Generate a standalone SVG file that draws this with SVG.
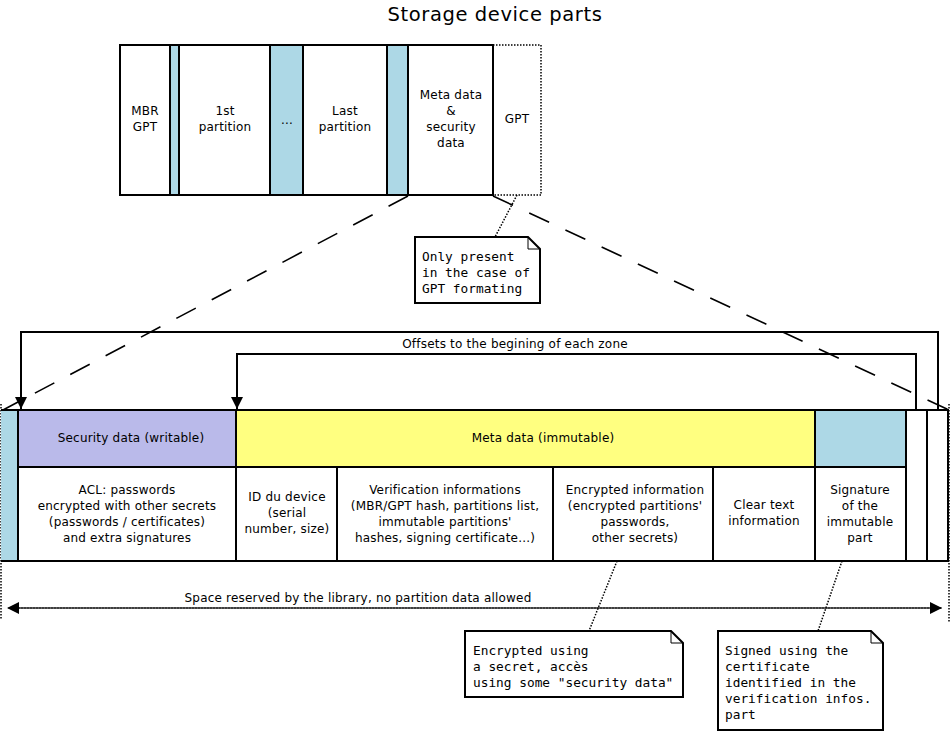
<svg xmlns="http://www.w3.org/2000/svg" width="951" height="731" viewBox="0 0 951 731">
<style>
.t{font-family:"DejaVu Sans",sans-serif;font-size:12px;fill:#000;text-anchor:middle;letter-spacing:0.2px}
.m{font-family:"DejaVu Sans Mono",monospace;font-size:12.8px;fill:#000}
.b{stroke:#000;stroke-width:2;fill:#fff}
.blue{fill:#add8e6}
.dot{stroke:#000;stroke-width:1.5;fill:none;stroke-dasharray:1.5 1.5}
.dash{stroke:#000;stroke-width:1.6;fill:none;stroke-dasharray:22 18}
.ln{stroke:#000;stroke-width:2;fill:none}
</style>
<defs>
<marker id="ah" viewBox="0 0 10 10" refX="10" refY="5" markerWidth="12" markerHeight="12" markerUnits="userSpaceOnUse" orient="auto">
<path d="M0,0L10,5L0,10z" fill="#000"/>
</marker>
</defs>
<rect width="951" height="731" fill="#fff"/>
<text x="495" y="21" class="t" style="font-size:19.5px;letter-spacing:0.6px">Storage device parts</text>

<g id="top-disk">
<rect x="120" y="45" width="50" height="150" class="b"/>
<rect x="170" y="45" width="9" height="150" class="b blue"/>
<rect x="179" y="45" width="91" height="150" class="b"/>
<rect x="270" y="45" width="33" height="150" class="b blue"/>
<rect x="303" y="45" width="84" height="150" class="b"/>
<rect x="387" y="45" width="21" height="150" class="b blue"/>
<rect x="408" y="45" width="85" height="150" class="b"/>
<path d="M493,45H541V195H493" class="dot"/>
<path d="M408,45H493M408,195H493" class="ln"/>
<text class="t"><tspan x="145" y="115">MBR</tspan><tspan x="145" y="131">GPT</tspan></text>
<text class="t"><tspan x="225" y="115">1st</tspan><tspan x="225" y="131">partition</tspan></text>
<text x="287" y="124" class="t">...</text>
<text class="t"><tspan x="345" y="115">Last</tspan><tspan x="345" y="131">partition</tspan></text>
<text class="t"><tspan x="451" y="99">Meta data</tspan><tspan x="451" y="115">&amp;</tspan><tspan x="451" y="131">security</tspan><tspan x="451" y="147">data</tspan></text>
<text x="517" y="123" class="t">GPT</text>
</g>

<g id="connectors">
<path d="M408,196L3,410" class="dash"/>
<path d="M493,196L949,410" class="dash"/>
<path d="M517,195L495,237" class="dot"/>
<path d="M617,561L589,631" class="dot"/>
<path d="M842,561L818,631" class="dot"/>
<path d="M938,410V332H21V409" class="ln" marker-end="url(#ah)"/>
<path d="M916,410V354H237V409" class="ln" marker-end="url(#ah)"/>
<text x="515" y="348" class="t">Offsets to the begining of each zone</text>
<path d="M1,404V620M949,404V622" class="dot"/>
<path d="M940,608H7" class="dot" marker-end="url(#ah)"/>
<path d="M10,608H942" class="dot" marker-end="url(#ah)"/>
<text x="358" y="602" class="t">Space reserved by the library, no partition data allowed</text>
</g>

<g id="note-gpt">
<path d="M415,237H528L540,249V303H415Z" class="b"/>
<path d="M528,237V249H540" class="ln" style="stroke-width:1"/>
<text class="m"><tspan x="422" y="261">Only present</tspan><tspan x="422" y="277">in the case of</tspan><tspan x="422" y="293">GPT formating</tspan></text>
</g>

<g id="zone-blue-left"><rect x="1" y="410" width="17" height="151" class="blue"/><path d="M1,410H18V561H1" class="ln"/></g>
<g id="security-data">
<rect x="18" y="410" width="218" height="57" class="b" style="fill:#babaea"/>
<text x="131" y="442" class="t">Security data (writable)</text>
</g>
<g id="meta-data">
<rect x="236" y="410" width="579" height="57" class="b" style="fill:#ffff80"/>
<text x="543" y="442" class="t">Meta data (immutable)</text>
</g>
<g id="signature-head"><rect x="815" y="410" width="91" height="57" class="b blue"/></g>
<g id="acl">
<rect x="18" y="467" width="218" height="94" class="b"/>
<text class="t"><tspan x="127" y="494">ACL: passwords</tspan><tspan x="127" y="510">encrypted with other secrets</tspan><tspan x="127" y="526">(passwords / certificates)</tspan><tspan x="127" y="542">and extra signatures</tspan></text>
</g>
<g id="id-device">
<rect x="236" y="467" width="101" height="94" class="b"/>
<text class="t"><tspan x="287" y="501">ID du device</tspan><tspan x="287" y="517">(serial</tspan><tspan x="287" y="533">number, size)</tspan></text>
</g>
<g id="verification">
<rect x="337" y="467" width="216" height="94" class="b"/>
<text class="t"><tspan x="445" y="494">Verification informations</tspan><tspan x="445" y="510">(MBR/GPT hash, partitions list,</tspan><tspan x="445" y="526">immutable partitions'</tspan><tspan x="445" y="542">hashes, signing certificate...)</tspan></text>
</g>
<g id="encrypted">
<rect x="553" y="467" width="160" height="94" class="b"/>
<text class="t"><tspan x="635" y="494">Encrypted information</tspan><tspan x="635" y="510">(encrypted partitions'</tspan><tspan x="635" y="526">passwords,</tspan><tspan x="635" y="542">other secrets)</tspan></text>
</g>
<g id="clear-text">
<rect x="713" y="467" width="102" height="94" class="b"/>
<text class="t"><tspan x="764" y="509">Clear text</tspan><tspan x="764" y="525">information</tspan></text>
</g>
<g id="signature">
<rect x="815" y="467" width="91" height="94" class="b"/>
<text class="t"><tspan x="860" y="494">Signature</tspan><tspan x="860" y="510">of the</tspan><tspan x="860" y="526">immutable</tspan><tspan x="860" y="542">part</tspan></text>
</g>
<g id="offset-1"><rect x="906" y="410" width="21" height="151" class="b"/></g>
<g id="offset-2"><rect x="927" y="410" width="21" height="151" class="b"/></g>

<g id="note-encrypted">
<path d="M465,631H671L683,643V697H465Z" class="b"/>
<path d="M671,631V643H683" class="ln" style="stroke-width:1"/>
<text class="m"><tspan x="473" y="655">Encrypted using</tspan><tspan x="473" y="671">a secret, accès</tspan><tspan x="473" y="687">using some "security data"</tspan></text>
</g>
<g id="note-signed">
<path d="M718,631H871L883,643V730H718Z" class="b"/>
<path d="M871,631V643H883" class="ln" style="stroke-width:1"/>
<text class="m"><tspan x="725" y="655">Signed using the</tspan><tspan x="725" y="671">certificate</tspan><tspan x="725" y="687">identified in the</tspan><tspan x="725" y="703">verification infos.</tspan><tspan x="725" y="719">part</tspan></text>
</g>
</svg>
